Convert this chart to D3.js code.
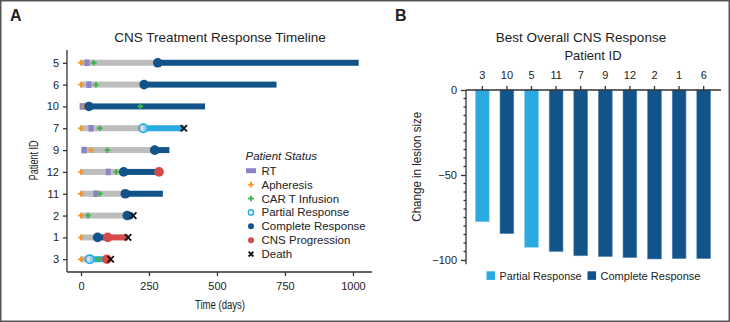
<!DOCTYPE html>
<html>
<head>
<meta charset="utf-8">
<script src="https://cdn.jsdelivr.net/npm/d3@7/dist/d3.min.js"></script>
<style>
  html, body { margin: 0; padding: 0; background: #fff; }
  svg { display: block; font-family: "Liberation Sans", Arial, Helvetica, sans-serif; }
</style>
</head>
<body>
<svg id="chart" width="730" height="322"></svg>
<script>
// ---------- Panel A data ----------
const patientIds       = ["5","6","10","7","9","12","11","2","1","3"];
const apheresisDays    = [0, 0, 12, 0, 37, 0, 0, 0, 0, 0];
const rtDays           = [22, 29, 4, 37, 12, 100, 54, null, null, null];
const carTDays         = [47, 55, 218, 69, 97, 129, 69, 26, null, 64];
const responseTypes    = ["CR","CR","CR","PR","CR","CR","CR","CR","CR","PR"];
const responseDays     = [282, 232, 29, 229, 271, 157, 163, 170, 61, 32];
const progressionDays  = [null, null, null, null, null, 287, null, null, 98, 95];
const lastFollowUpDays = [1021, 719, 456, 378, 325, 298, 301, 192, 173, 109];
const deathDays        = [null, null, null, 378, null, null, null, 192, 173, 109];
const timeTicks        = [0, 250, 500, 750, 1000];
const statusLabels     = ["RT","Apheresis","CAR T Infusion","Partial Response","Complete Response","CNS Progression","Death"];

// ---------- Panel B data ----------
const bestPatients  = ["3","10","5","11","7","9","12","2","1","6"];
const lesionChange  = [-77.5, -84.5, -92.5, -95, -97.5, -98, -98.6, -99.4, -99.2, -99.2];
const bestResponse  = ["PR","CR","PR","CR","CR","CR","CR","CR","CR","CR"];
const lesionTicks   = [0, -50, -100];
const bestLegend    = ["Partial Response","Complete Response"];

// ---------- styles ----------
const C = {
  gray: "#bdbdbd", pr: "#29abe2", cr: "#12548a", red: "#d64a4a",
  orange: "#f7931e", green: "#3db54a", purple: "#8c84c6", text: "#222", axis: "#333"
};

const svg = d3.select("#chart");

// frame
svg.append("rect").attr("x", 0.75).attr("y", 0.75).attr("width", 728.5).attr("height", 320.5)
  .attr("fill", "none").attr("stroke", "#555").attr("stroke-width", 1.5);

// panel letters
svg.append("text").attr("x", 10).attr("y", 21).attr("font-size", 16).attr("font-weight", "bold")
  .attr("fill", "#222").text("A");
svg.append("text").attr("x", 395).attr("y", 21).attr("font-size", 16).attr("font-weight", "bold")
  .attr("fill", "#222").text("B");

// ================= Panel A =================
const x = d3.scaleLinear().domain([-51.5, 1070]).range([67, 372]);
const y = d3.scalePoint().domain(patientIds).range([50, 272]).padding(0.585);

svg.append("text").attr("x", 220).attr("y", 42).attr("text-anchor", "middle")
  .attr("font-size", 13.5).attr("fill", C.text).text("CNS Treatment Response Timeline");

const gA = svg.append("g");

const rows = patientIds.map((id, i) => ({
  id, aph: apheresisDays[i], rt: rtDays[i], cart: carTDays[i], rtype: responseTypes[i],
  resp: responseDays[i], prog: progressionDays[i], end: lastFollowUpDays[i], death: deathDays[i]
}));

const barH = 6;
// segments
rows.forEach(r => {
  const segs = [];
  segs.push({ a: 0, b: r.resp, c: C.gray });
  const respEnd = r.prog != null ? r.prog : r.end;
  segs.push({ a: r.resp, b: respEnd, c: r.rtype === "PR" ? C.pr : C.cr });
  if (r.prog != null) segs.push({ a: r.prog, b: r.end, c: C.red });
  segs.forEach(s => {
    gA.append("rect").attr("x", x(s.a)).attr("y", y(r.id) - barH / 2)
      .attr("width", Math.max(0, x(s.b) - x(s.a))).attr("height", barH).attr("fill", s.c);
  });
});

const crossPath = d3.symbol().type(d3.symbolCross).size(18)();
function xMark(g, cx, cy, h) {
  g.append("path").attr("d", `M${cx - h},${cy - h}L${cx + h},${cy + h}M${cx - h},${cy + h}L${cx + h},${cy - h}`)
    .attr("stroke", "#111").attr("stroke-width", 1.8).attr("fill", "none");
}

rows.forEach(r => {
  const cy = y(r.id);
  if (r.rt != null)
    gA.append("rect").attr("x", x(r.rt) - 2.5).attr("y", cy - 3.3).attr("width", 5).attr("height", 6.6).attr("fill", C.purple);
  if (r.aph != null)
    gA.append("path").attr("d", crossPath).attr("transform", `translate(${x(r.aph)},${cy})`).attr("fill", C.orange);
  if (r.cart != null)
    gA.append("path").attr("d", crossPath).attr("transform", `translate(${x(r.cart)},${cy})`).attr("fill", C.green);
  if (r.rtype === "PR")
    gA.append("circle").attr("cx", x(r.resp)).attr("cy", cy).attr("r", 4.2)
      .attr("fill", "#fff").attr("fill-opacity", 0.45).attr("stroke", C.pr).attr("stroke-width", 1.8);
  else
    gA.append("circle").attr("cx", x(r.resp)).attr("cy", cy).attr("r", 4.8).attr("fill", C.cr);
  if (r.prog != null)
    gA.append("circle").attr("cx", x(r.prog)).attr("cy", cy).attr("r", 4.8).attr("fill", C.red);
  if (r.death != null) xMark(gA, x(r.death), cy, 3.2);
});

// axes A
const axA_x = svg.append("g").attr("transform", "translate(0,272)")
  .call(d3.axisBottom(x).tickValues(timeTicks).tickFormat(d3.format("d")).tickSizeOuter(0).tickSize(4).tickPadding(6));
const axA_y = svg.append("g").attr("transform", "translate(67,0)")
  .call(d3.axisLeft(y).tickSizeOuter(0).tickSize(4).tickPadding(4));
[axA_x, axA_y].forEach(g => {
  g.selectAll("path,line").attr("stroke", C.axis).attr("stroke-width", 1.3);
  g.selectAll("text").attr("font-size", 11).attr("fill", C.text).attr("font-family", null);
});
axA_y.select(".domain").attr("d", "M0,50V272");
axA_x.select(".domain").attr("d", "M67,0H372");

svg.append("text").attr("x", 220).attr("y", 308.5).attr("text-anchor", "middle")
  .attr("font-size", 12.5).attr("fill", C.text)
  .attr("textLength", 50).attr("lengthAdjust", "spacingAndGlyphs").text("Time (days)");
svg.append("text").attr("transform", "translate(37.5,160.3) rotate(-90)").attr("text-anchor", "middle")
  .attr("font-size", 12.5).attr("fill", C.text)
  .attr("textLength", 40).attr("lengthAdjust", "spacingAndGlyphs").text("Patient ID");

// legend A
const lg = svg.append("g");
lg.append("text").attr("x", 245.5).attr("y", 159.5).attr("font-size", 11.5).attr("font-style", "italic")
  .attr("fill", C.text).text("Patient Status");
statusLabels.forEach((lab, i) => {
  const cy = 170.7 + i * 13.9;
  const cx = 251;
  if (i === 0) lg.append("rect").attr("x", cx - 5).attr("y", cy - 2.5).attr("width", 10).attr("height", 5).attr("fill", C.purple);
  if (i === 1) lg.append("path").attr("d", crossPath).attr("transform", `translate(${cx},${cy})`).attr("fill", C.orange);
  if (i === 2) lg.append("path").attr("d", crossPath).attr("transform", `translate(${cx},${cy})`).attr("fill", C.green);
  if (i === 3) lg.append("circle").attr("cx", cx).attr("cy", cy).attr("r", 2.6).attr("fill", "none").attr("stroke", C.pr).attr("stroke-width", 1.5);
  if (i === 4) lg.append("circle").attr("cx", cx).attr("cy", cy).attr("r", 3).attr("fill", C.cr);
  if (i === 5) lg.append("circle").attr("cx", cx).attr("cy", cy).attr("r", 3).attr("fill", C.red);
  if (i === 6) xMark(lg, cx, cy, 2.4);
  lg.append("text").attr("x", 261.5).attr("y", cy + 4).attr("font-size", 11.5).attr("fill", C.text).text(lab);
});

// ================= Panel B =================
const xb = d3.scaleBand().domain(bestPatients).range([470, 716]).paddingInner(0.44).paddingOuter(0.22);
const yb = d3.scaleLinear().domain([0, -102.5]).range([90, 264.25]);

svg.append("text").attr("x", 581).attr("y", 42).attr("text-anchor", "middle")
  .attr("font-size", 13.5).attr("fill", C.text).text("Best Overall CNS Response");
svg.append("text").attr("x", 593).attr("y", 60).attr("text-anchor", "middle")
  .attr("font-size", 13).attr("fill", C.text).text("Patient ID");

const gB = svg.append("g");
bestPatients.forEach((p, i) => {
  const isPR = bestResponse[i] === "PR";
  gB.append("rect").attr("x", xb(p)).attr("y", yb(0)).attr("width", xb.bandwidth())
    .attr("height", yb(lesionChange[i]) - yb(0))
    .attr("fill", isPR ? C.pr : C.cr)
    .attr("stroke", isPR ? "#7fcdf0" : "#5c8bb3").attr("stroke-width", 0.6);
});

const axB_top = svg.append("g").attr("transform", "translate(0,90)")
  .call(d3.axisTop(xb).tickSizeOuter(0).tickSize(4).tickPadding(7));
axB_top.select(".domain").attr("d", "M466,0H721");
const axB_y = svg.append("g").attr("transform", "translate(466,0)")
  .call(d3.axisLeft(yb).tickValues(lesionTicks).tickSizeOuter(0).tickSize(5).tickPadding(4));
axB_y.select(".domain").attr("d", "M0,90V264.25");
// minor ticks
const minorTicks = d3.range(0, -101, -5).filter(v => !lesionTicks.includes(v));
axB_y.selectAll(".minor").data(minorTicks).enter().append("line").attr("class", "minor")
  .attr("x1", -2.5).attr("x2", 0).attr("y1", d => yb(d)).attr("y2", d => yb(d));
[axB_top, axB_y].forEach(g => {
  g.selectAll("path,line").attr("stroke", C.axis).attr("stroke-width", 1.3);
  g.selectAll("text").attr("font-size", 11).attr("fill", C.text).attr("font-family", null);
});

svg.append("text").attr("transform", "translate(421,166.7) rotate(-90)").attr("text-anchor", "middle")
  .attr("font-size", 12.5).attr("fill", C.text)
  .attr("textLength", 110).attr("lengthAdjust", "spacingAndGlyphs").text("Change in lesion size");

// legend B
const lgB = svg.append("g");
[{ x: 486.5, c: C.pr, w: 82 }, { x: 587.5, c: C.cr, w: 100 }].forEach((d, i) => {
  lgB.append("rect").attr("x", d.x).attr("y", 271.3).attr("width", 8.6).attr("height", 8.6).attr("fill", d.c);
  lgB.append("text").attr("x", d.x + 13).attr("y", 279.8).attr("font-size", 11.5).attr("fill", C.text)
    .attr("textLength", d.w).attr("lengthAdjust", "spacingAndGlyphs").text(bestLegend[i]);
});
</script>
</body>
</html>
